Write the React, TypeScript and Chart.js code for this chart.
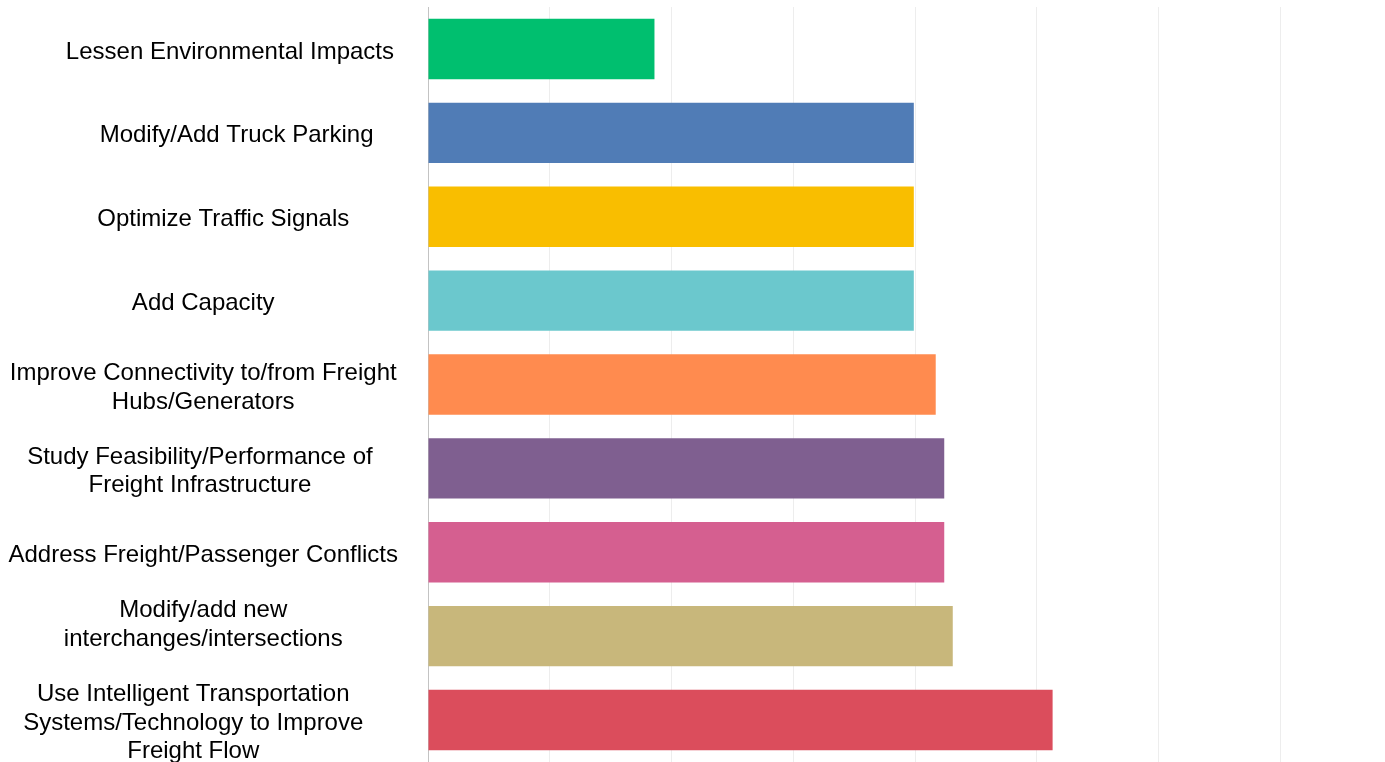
import React, { useEffect, useRef } from "react";
import { Chart, registerables } from "chart.js";

Chart.register(...registerables);

const categories: (string | string[])[] = [
  "Lessen Environmental Impacts",
  "Modify/Add Truck Parking",
  "Optimize Traffic Signals",
  "Add Capacity",
  ["Improve Connectivity to/from Freight", "Hubs/Generators"],
  ["Study Feasibility/Performance of", "Freight Infrastructure"],
  "Address Freight/Passenger Conflicts",
  ["Modify/add new", "interchanges/intersections", ""],
  ["Use Intelligent Transportation", "Systems/Technology to Improve", "Freight Flow"],
];

const values: number[] = [1.86, 3.99, 3.99, 3.99, 4.17, 4.24, 4.24, 4.31, 5.13];

const barColors: string[] = [
  "#00BF6F",
  "#507CB6",
  "#F9BE00",
  "#6BC8CD",
  "#FF8B4F",
  "#7F5F90",
  "#D55F90",
  "#C8B77B",
  "#DB4D5C",
];

const X_MIN = 0;
const X_MAX = 7.86;
const X_STEP = 1;

// style: horizontal nudge of each category label, in space characters (+ right, - left)
const labelNudge: number[] = [8, 10, 6, 0, 0, -1, 0, 0, -3];

function nudgeLine(line: string, n: number): string {
  if (n > 0) return " ".repeat(n) + line;
  if (n < 0) return line + " ".repeat(-n);
  return line;
}

export default function App() {
  const canvasRef = useRef<HTMLCanvasElement | null>(null);

  useEffect(() => {
    if (!canvasRef.current) return;
    const chart = new Chart(canvasRef.current, {
      type: "bar",
      data: {
        labels: categories,
        datasets: [
          {
            data: values,
            backgroundColor: barColors,
            borderWidth: 0,
          },
        ],
      },
      options: {
        indexAxis: "y",
        animation: false,
        responsive: true,
        maintainAspectRatio: false,
        layout: { padding: { top: 7, bottom: 0, left: 0, right: 0 } },
        plugins: {
          legend: { display: false },
          tooltip: { enabled: false },
        },
        scales: {
          x: {
            min: X_MIN,
            max: X_MAX,
            ticks: { display: false, stepSize: X_STEP },
            afterBuildTicks: (scale: any) => {
              scale.ticks = scale.ticks.filter((t: any) => Number.isInteger(t.value));
            },
            grid: { color: "rgba(0,0,0,0.07)", drawTicks: false, lineWidth: 1 },
            border: { display: true, color: "rgba(0,0,0,0.05)" },
          },
          y: {
            afterFit: (scale: any) => {
              scale.width = 428;
              scale.paddingTop = 0;
              scale.paddingBottom = 0;
            },
            grid: { display: false, drawTicks: false },
            border: { display: true, color: "rgba(0,0,0,0.18)", width: 1 },
            ticks: {
              autoSkip: false,
              crossAlign: "center",
              padding: 30,
              labelOffset: 3,
              color: "#000",
              font: { family: "'Liberation Sans', Arial, sans-serif", size: 24, lineHeight: 1.2 },
              callback: function (this: any, value: any, index: number) {
                const label = this.getLabelForValue(value);
                const n = labelNudge[index] || 0;
                return Array.isArray(label)
                  ? label.map((l: string) => nudgeLine(l, n))
                  : nudgeLine(String(label), n);
              },
            },
          },
        },
      },
    });
    return () => chart.destroy();
  }, []);

  return (
    <div style={{ position: "absolute", left: 0, top: 0, width: 1385, height: 762, background: "#fff" }}>
      <canvas ref={canvasRef} />
    </div>
  );
}
